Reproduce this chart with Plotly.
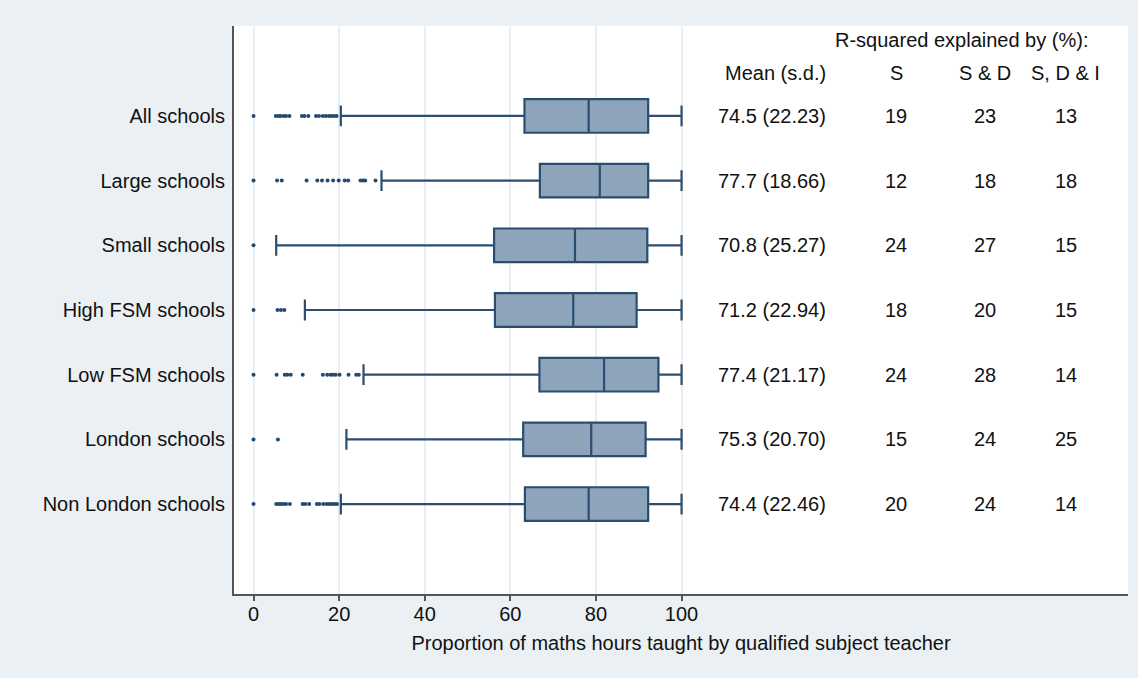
import plotly.graph_objects as go

# School groups, top to bottom
categories = ["All schools", "Large schools", "Small schools", "High FSM schools",
              "Low FSM schools", "London schools", "Non London schools"]

# Box summaries: proportion of maths hours taught by a qualified subject teacher
q1 = [63.3, 66.9, 56.2, 56.4, 66.8, 63.0, 63.4]
median = [78.3, 80.9, 75.1, 74.7, 81.9, 78.9, 78.3]
q3 = [92.2, 92.2, 92.0, 89.5, 94.6, 91.6, 92.2]
lower_whisker = [20.4, 29.9, 5.3, 12.0, 25.7, 21.7, 20.4]
upper_whisker = [100, 100, 100, 100, 100, 100, 100]

# Outside values below the lower whisker
out_all = [0, 5.2, 5.8, 6.3, 7.0, 7.6, 8.4, 11.3, 11.9, 12.8, 14.6, 15.3, 16.2,
           16.9, 17.6, 18.2, 18.8, 19.4]
out_large = [0, 5.5, 6.6, 12.4, 14.9, 16.0, 17.3, 18.6, 19.9, 21.3, 22.1, 25.0,
             25.6, 26.1, 28.5]
out_small = [0]
out_high_fsm = [0, 5.6, 6.4, 7.2]
out_low_fsm = [0, 5.4, 7.3, 7.9, 8.7, 11.5, 16.2, 17.2, 18.0, 18.6, 19.2, 20.1,
               22.2, 24.0, 24.6]
out_london = [0, 5.7]
out_non_london = [0, 5.3, 5.9, 6.4, 7.0, 7.6, 8.5, 11.5, 12.1, 13.0, 14.8, 15.4,
                  16.3, 17.1, 17.7, 18.3, 18.9, 19.5]

# Summary statistics shown to the right of the boxes
means = [74.5, 77.7, 70.8, 71.2, 77.4, 75.3, 74.4]
sds = [22.23, 18.66, 25.27, 22.94, 21.17, 20.70, 22.46]
r2_s = [19, 12, 24, 18, 24, 15, 20]
r2_sd = [23, 18, 27, 20, 28, 24, 24]
r2_sdi = [13, 18, 15, 15, 14, 25, 14]

x_ticks = [0, 20, 40, 60, 80, 100]

FONT = "Liberation Sans Narrow, Liberation Sans, Arial, sans-serif"
BOX_FILL = "#8ea4ba"
BOX_LINE = "#2b4d6f"
DOT = "#264a6e"

fig = go.Figure()

fig.add_trace(go.Box(
    y=categories, q1=q1, median=median, q3=q3,
    lowerfence=lower_whisker, upperfence=upper_whisker,
    orientation="h", boxpoints=False, width=0.52, whiskerwidth=0.62,
    fillcolor=BOX_FILL, line=dict(color=BOX_LINE, width=2.2),
    hoverinfo="skip", showlegend=False,
))

outliers = [out_all, out_large, out_small, out_high_fsm, out_low_fsm,
            out_london, out_non_london]
ox, oy = [], []
for cat, vals in zip(categories, outliers):
    ox.extend(vals)
    oy.extend([cat] * len(vals))
fig.add_trace(go.Scatter(
    x=ox, y=oy, mode="markers",
    marker=dict(size=4, color=DOT),
    hoverinfo="skip", showlegend=False,
))

# Column positions in axis units
X_MEAN, X_S, X_SD, X_SDI, X_HEAD = 134.2, 150.1, 170.9, 189.8, 165.3
TXT = dict(family=FONT, size=20, color="#111111")

ann = []
for i, cat in enumerate(categories):
    ann.append(dict(x=X_MEAN, y=i, xanchor="right", text=f"{means[i]:.1f} ({sds[i]:.2f})"))
    ann.append(dict(x=X_S, y=i, xanchor="center", text=str(r2_s[i])))
    ann.append(dict(x=X_SD, y=i, xanchor="center", text=str(r2_sd[i])))
    ann.append(dict(x=X_SDI, y=i, xanchor="center", text=str(r2_sdi[i])))
ann.append(dict(x=X_MEAN, y=-0.66, xanchor="right", text="Mean (s.d.)"))
ann.append(dict(x=X_S, y=-0.66, xanchor="center", text="S"))
ann.append(dict(x=X_SD, y=-0.66, xanchor="center", text="S &amp; D"))
ann.append(dict(x=X_SDI, y=-0.66, xanchor="center", text="S, D &amp; I"))
ann.append(dict(x=X_HEAD, y=-1.17, xanchor="center", text="R-squared explained by (%):"))
for a in ann:
    a.update(xref="x", yref="y", yanchor="middle", showarrow=False, font=TXT)

fig.update_layout(
    width=1138, height=678,
    margin=dict(l=234, r=10, t=26, b=84),
    paper_bgcolor="#eaf0f4", plot_bgcolor="#ffffff",
    font=dict(family=FONT, size=20, color="#111111"),
    annotations=ann,
    xaxis=dict(
        range=[-4.56, 204.3], tickvals=x_ticks, ticktext=[str(t) for t in x_ticks],
        showgrid=True, gridcolor="#e9eef2", gridwidth=1.5, zeroline=False,
        showline=True, linecolor="#555555", linewidth=2,
        ticks="outside", ticklen=5, tickcolor="#555555", tickwidth=1.5,
        ticklabelstandoff=-4,
        tickfont=dict(family=FONT, size=20, color="#111111"),
        title=dict(text="Proportion of maths hours taught by qualified subject teacher",
                   font=dict(family=FONT, size=20, color="#111111"), standoff=12),
    ),
    yaxis=dict(
        type="category", categoryorder="array", categoryarray=categories,
        range=[len(categories) - 1 + 1.39, -1.39],
        showgrid=False, zeroline=False,
        showline=True, linecolor="#555555", linewidth=2,
        ticks="", ticklabelstandoff=3,
        tickfont=dict(family=FONT, size=20, color="#111111"),
    ),
)

fig.write_html("out.html")
